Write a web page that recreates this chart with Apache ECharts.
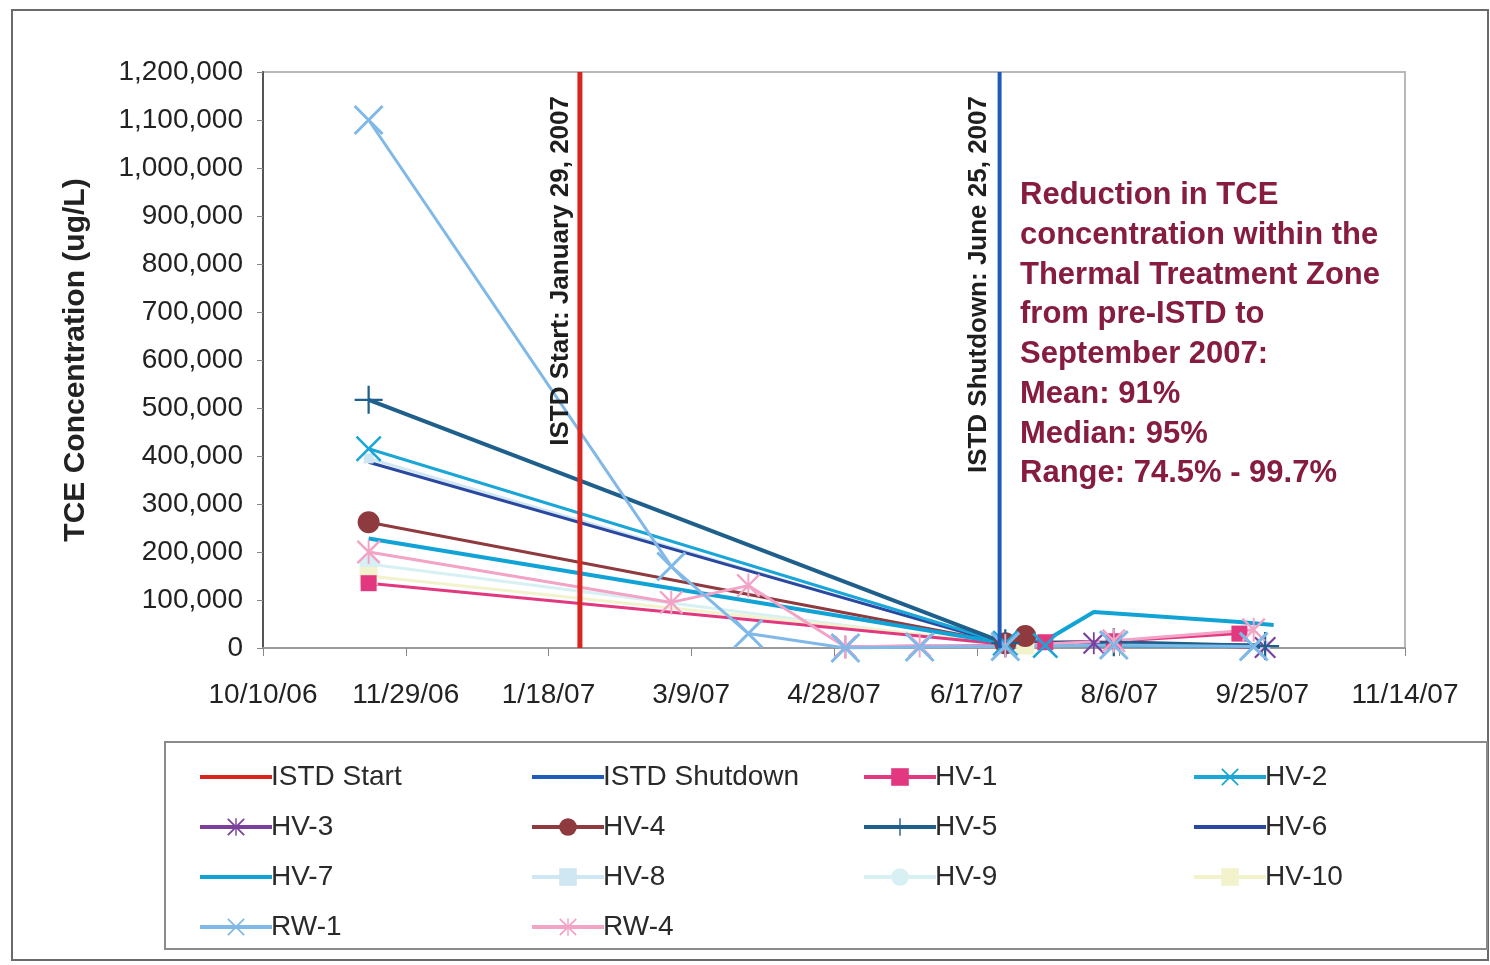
<!DOCTYPE html>
<html><head><meta charset="utf-8">
<script src="https://cdn.jsdelivr.net/npm/echarts@6/dist/echarts.min.js"></script>
<style>html,body{margin:0;padding:0;background:#fff}#c{width:1490px;height:965px}</style>
</head><body><div id="c"></div>
<script>
// ---- axis definitions ----
const axisOrigin = '2006-10-10';      // first x tick
const xTickStepDays = 50;
const xSpanDays = 400;                 // last tick 11/14/07
const yMin = 0, yMax = 1200000, yStep = 100000;

// ---- ISTD event lines ----
const istdStartDate = '2007-01-29';
const istdShutdownDate = '2007-06-25';
const istdLineValues = [0, 1200000];

// ---- well data (date, TCE ug/L) ----
const hv1Dates  = ['2006-11-16','2007-06-27','2007-07-11','2007-08-04','2007-09-17'];
const hv1Values = [135000, 8000, 12000, 14000, 30000];

const hv2Dates  = ['2006-11-16','2007-06-27','2007-07-11','2007-09-22'];
const hv2Values = [415000, 10000, 5000, 3000];

const hv3Dates  = ['2007-05-02','2007-06-27','2007-07-28','2007-09-26'];
const hv3Values = [2000, 5000, 10000, 1000];

const hv4Dates  = ['2006-11-16','2007-06-27','2007-07-04'];
const hv4Values = [262000, 10000, 25000];

const hv5Dates  = ['2006-11-16','2007-06-27','2007-08-04','2007-09-26'];
const hv5Values = [517000, 10000, 12000, 4000];

const hv6Dates  = ['2006-11-16','2007-06-27','2007-07-11','2007-09-26'];
const hv6Values = [387000, 8000, 10000, 6000];

const hv7Dates  = ['2006-11-16','2007-06-27','2007-07-11','2007-07-28','2007-09-17','2007-09-29'];
const hv7Values = [228000, 10000, 15000, 75000, 54000, 48000];

const hv8Dates  = ['2006-11-16','2007-06-27','2007-09-26'];
const hv8Values = [395000, 6000, 4000];

const hv9Dates  = ['2006-11-16','2007-06-27'];
const hv9Values = [175000, 4000];

const hv10Dates  = ['2006-11-16','2007-07-04'];
const hv10Values = [150000, 5000];

const rw1Dates  = ['2006-11-16','2007-03-02','2007-03-29','2007-05-02','2007-05-28','2007-06-27','2007-08-04','2007-09-22'];
const rw1Values = [1100000, 170000, 30000, 0, 2000, 3000, 6000, 3000];

const rw4Dates  = ['2006-11-16','2007-03-02','2007-03-29','2007-05-02','2007-05-28','2007-06-27','2007-08-04','2007-09-22'];
const rw4Values = [200000, 95000, 130000, 2000, 5000, 4000, 15000, 38000];

// ---- legend layout (names by column) ----
const legendCol1 = ['ISTD Start', 'HV-3', 'HV-7', 'RW-1'];
const legendCol2 = ['ISTD Shutdown', 'HV-4', 'HV-8', 'RW-4'];
const legendCol3 = ['HV-1', 'HV-5', 'HV-9'];
const legendCol4 = ['HV-2', 'HV-6', 'HV-10'];
const lineOnlyNames = ['ISTD Start', 'ISTD Shutdown', 'HV-6', 'HV-7'];

const noteLines = ['Reduction in TCE','concentration within the','Thermal Treatment Zone','from pre-ISTD to','September 2007:','Mean: 91%','Median: 95%','Range: 74.5% - 99.7%'];

// ---- helpers ----
function dayNum(s){ const p = s.split('-').map(Number); return Date.UTC(p[0], p[1]-1, p[2]) / 86400000; }
const originDay = dayNum(axisOrigin);
function toX(s){ return dayNum(s) - originDay; }
function pairs(dates, vals){ return dates.map((d,i)=>[toX(d), vals[i]]); }
function fmtDate(off){
  const d = new Date((originDay + off) * 86400000);
  return (d.getUTCMonth()+1) + '/' + d.getUTCDate() + '/' + String(d.getUTCFullYear()).slice(2);
}
function fmtNum(v){ return String(v).replace(/\B(?=(\d{3})+(?!\d))/g, ','); }

const X_PATH = 'path://M0,0.7L0.7,0L5,4.3L9.3,0L10,0.7L5.7,5L10,9.3L9.3,10L5,5.7L0.7,10L0,9.3L4.3,5Z';
const AST_PATH = 'path://M0,0.7L0.7,0L5,4.3L9.3,0L10,0.7L5.7,5L10,9.3L9.3,10L5,5.7L0.7,10L0,9.3L4.3,5ZM4.6,0L5.4,0L5.4,10L4.6,10Z';
const PLUS_PATH = 'path://M4.6,0L5.4,0L5.4,4.6L10,4.6L10,5.4L5.4,5.4L5.4,10L4.6,10L4.6,5.4L0,5.4L0,4.6L4.6,4.6Z';

function mk(name, data, color, symbol, size, width, z){
  return {
    name, type: 'line', data, z: z || 2,
    symbol: symbol || 'none', symbolSize: size || 0, showSymbol: !!symbol,
    lineStyle: { color, width: width || 3 },
    itemStyle: { color },
    emphasis: { disabled: true }
  };
}

const series = [
  mk('ISTD Start', [[toX(istdStartDate), istdLineValues[0]], [toX(istdStartDate), istdLineValues[1]]], '#D8261F', null, 0, 5, 5),
  mk('ISTD Shutdown', [[toX(istdShutdownDate), istdLineValues[0]], [toX(istdShutdownDate), istdLineValues[1]]], '#1F5BB8', null, 0, 4, 5),
  mk('HV-8', pairs(hv8Dates, hv8Values), '#CFE6F3', 'rect', 10, 3),
  mk('HV-9', pairs(hv9Dates, hv9Values), '#D6F0F3', 'circle', 18, 3),
  mk('HV-10', pairs(hv10Dates, hv10Values), '#F2F2CC', 'rect', 18, 3),
  mk('HV-1', pairs(hv1Dates, hv1Values), '#E2387F', 'rect', 16, 3),
  mk('HV-3', pairs(hv3Dates, hv3Values), '#7B3F9E', AST_PATH, 22, 3),
  mk('HV-4', pairs(hv4Dates, hv4Values), '#8E3A3E', 'circle', 22, 3),
  mk('HV-6', pairs(hv6Dates, hv6Values), '#2B48A0', null, 0, 3),
  mk('HV-7', pairs(hv7Dates, hv7Values), '#12A3D6', null, 0, 4),
  mk('HV-2', pairs(hv2Dates, hv2Values), '#1BA6D8', X_PATH, 26, 3),
  mk('HV-5', pairs(hv5Dates, hv5Values), '#1F5F8C', PLUS_PATH, 28, 4),
  mk('RW-4', pairs(rw4Dates, rw4Values), '#F2A3C6', AST_PATH, 24, 3),
  mk('RW-1', pairs(rw1Dates, rw1Values), '#80B9E8', X_PATH, 30, 3)
];

const font = 'Liberation Sans, Arial, sans-serif';

function legendData(names){
  return names.map(n => lineOnlyNames.indexOf(n) >= 0
    ? { name: n, itemStyle: { color: 'rgba(0,0,0,0)', opacity: 0, borderWidth: 0 } }
    : { name: n });
}

const legendBase = {
  orient: 'vertical', itemWidth: 72, itemHeight: 22, itemGap: 20,
  lineStyle: { width: 4 },
  textStyle: { fontFamily: font, fontSize: 28, color: '#2a2a2a', lineHeight: 30, padding: [0,0,0,-6] },
  selectedMode: false, top: 757
};

const option = {
  animation: false,
  backgroundColor: '#fff',
  grid: { left: 263, top: 72, width: 1142, height: 576, show: true, borderColor: '#b8b8b8', borderWidth: 2, backgroundColor: 'transparent' },
  xAxis: {
    type: 'value', min: 0, max: xSpanDays, interval: xTickStepDays,
    axisLine: { show: true, onZero: false, lineStyle: { color: '#9a9a9a', width: 2 } },
    axisTick: { show: true, length: 8, lineStyle: { color: '#888', width: 1 } },
    axisLabel: { formatter: fmtDate, fontFamily: font, fontSize: 28, color: '#222', margin: 33 },
    splitLine: { show: false }
  },
  yAxis: {
    type: 'value', min: yMin, max: yMax, interval: yStep,
    name: 'TCE Concentration (ug/L)', nameLocation: 'middle', nameGap: 172,
    nameTextStyle: { fontFamily: font, fontSize: 30, fontWeight: 'bold', color: '#222' },
    axisLine: { show: true, lineStyle: { color: '#555', width: 2 } },
    axisTick: { show: true, length: 6, lineStyle: { color: '#888' } },
    axisLabel: { formatter: fmtNum, fontFamily: font, fontSize: 28, color: '#222', margin: 20 },
    splitLine: { show: false }
  },
  legend: [
    Object.assign({}, legendBase, { left: 193, data: legendData(legendCol1) }),
    Object.assign({}, legendBase, { left: 525, data: legendData(legendCol2) }),
    Object.assign({}, legendBase, { left: 857, data: legendData(legendCol3) }),
    Object.assign({}, legendBase, { left: 1187, data: legendData(legendCol4) })
  ],
  series
};

const chart = echarts.init(document.getElementById('c'), null, { renderer: 'canvas' });
chart.setOption(option);

const pStart = chart.convertToPixel({ gridIndex: 0 }, [toX(istdStartDate), 1150000]);
const pStop = chart.convertToPixel({ gridIndex: 0 }, [toX(istdShutdownDate), 1150000]);

chart.setOption({
  graphic: [
    { type: 'rect', z: -1, shape: { x: 12, y: 10, width: 1476, height: 950 }, style: { fill: 'none', stroke: '#6a6a6a', lineWidth: 2 } },
    { type: 'rect', z: -1, shape: { x: 165, y: 742, width: 1322, height: 207 }, style: { fill: 'none', stroke: '#8a8a8a', lineWidth: 2 } },
    { type: 'text', x: pStart[0] - 19, y: pStart[1], rotation: Math.PI / 2, z: 10,
      style: { text: 'ISTD Start: January 29, 2007', fontFamily: font, fontSize: 26, fontWeight: 'bold', fill: '#1e1e1e', align: 'right', verticalAlign: 'middle' } },
    { type: 'text', x: pStop[0] - 21, y: pStop[1], rotation: Math.PI / 2, z: 10,
      style: { text: 'ISTD Shutdown: June 25, 2007', fontFamily: font, fontSize: 26, fontWeight: 'bold', fill: '#1e1e1e', align: 'right', verticalAlign: 'middle' } },
    { type: 'text', x: 1020, y: 176, z: 10,
      style: { text: noteLines.join('\n'), fontFamily: font, fontSize: 31, fontWeight: 'bold', lineHeight: 39.7, fill: '#861C40', align: 'left', verticalAlign: 'top' } }
  ]
});
</script>
</body></html>
